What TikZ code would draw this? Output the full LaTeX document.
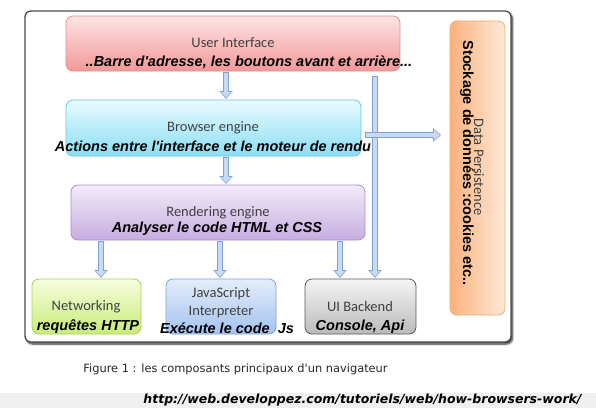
\documentclass[tikz,border=0pt]{standalone}
\usepackage{fontspec}
\setmainfont{Carlito}
\newfontfamily\arialf{Liberation Sans}
\newfontfamily\capf{DejaVu Sans}
\usetikzlibrary{arrows.meta,shadows.blur}
\definecolor{arrowfill}{HTML}{C9DAF3}
\definecolor{arrowline}{HTML}{7EA2D8}
\definecolor{uiline}{HTML}{E98C8C}
\tikzset{
  box/.style={rounded corners=7pt, minimum width=#1, inner sep=0pt, line width=0.8pt},
  title/.style={font=\fontsize{14.5}{15}\selectfont, text=black!75, inner sep=0pt},
  note/.style={font=\arialf\bfseries\itshape\fontsize{14.5}{15}\selectfont, inner sep=0pt},
  arrowout/.style={line width=6pt, arrowline, -{Triangle[length=8pt,width=13pt]}},
  arrowin/.style={line width=3.8pt, arrowfill, shorten >=1.2pt, shorten <=1pt, -{Triangle[length=5.8pt,width=9.6pt]}},
}
\begin{document}
\begin{tikzpicture}[x=1pt,y=-1pt]
\useasboundingbox (0,0) rectangle (596,408);
% bottom band
\fill[gray!12] (0,393) rectangle (596,408);
% frame
\fill[white, rounded corners=6pt, blur shadow={shadow xshift=1.5pt, shadow yshift=-2pt, shadow blur steps=6, shadow blur extra rounding=2pt, shadow opacity=85}] (25,11) rectangle (511,342);
\draw[black!70, line width=1.3pt, rounded corners=6pt] (25,11) rectangle (511,342);
% boxes
\node[box=334pt, minimum height=55pt, draw=uiline, top color={rgb,255:red,253;green,228;blue,228}, bottom color={rgb,255:red,243;green,152;blue,152}] (ui) at (233,43.5) {};
\node[box=295pt, minimum height=56pt, draw={rgb,255:red,110;green,196;blue,224}, top color={rgb,255:red,232;green,251;blue,254}, bottom color={rgb,255:red,138;green,222;blue,245}] (be) at (213.5,128) {};
\node[box=294pt, minimum height=55pt, draw={rgb,255:red,168;green,142;blue,200}, top color={rgb,255:red,242;green,235;blue,249}, bottom color={rgb,255:red,198;green,174;blue,224}] (re) at (218,212.5) {};
\node[box=109pt, minimum height=55pt, draw={rgb,255:red,170;green,205;blue,92}, top color={rgb,255:red,246;green,253;blue,222}, bottom color={rgb,255:red,200;green,236;blue,120}] (net) at (86.5,306.5) {};
\node[box=110pt, minimum height=55pt, draw={rgb,255:red,126;green,163;blue,216}, top color={rgb,255:red,228;green,237;blue,250}, bottom color={rgb,255:red,164;green,194;blue,239}] (js) at (221,306.5) {};
\node[box=111pt, minimum height=55pt, draw=black!65, top color=black!4, bottom color=black!27] (uib) at (360.5,306.5) {};
\node[box=55pt, minimum height=294pt, draw={rgb,255:red,246;green,168;blue,108}, left color={rgb,255:red,251;green,178;blue,124}, right color={rgb,255:red,254;green,233;blue,216}] (dp) at (477.5,168) {};
% texts
\node[title] (uit) at (233,43) {User Interface};
\node[note] (uin) at (249,62) {..Barre d'adresse, les boutons avant et arrière...};
\node[title] (bet) at (213,128) {Browser engine};
\node[note] (ben) at (213,146) {Actions entre l'interface et le moteur de rendu};
\node[title] (ret) at (218,213) {Rendering engine};
\node[note] (ren) at (217,229) {Analyser le code HTML et CSS};
\node[title] (nett) at (86,307) {Networking};
\node[note] (netn) at (88,327) {requêtes HTTP};
\node[title, align=center, font=\fontsize{14.5}{18}\selectfont] (jst) at (221,303) {JavaScript\\Interpreter};
\node[note] (jsn) at (227,328) {Exécute le code\ \ Js};
\node[title] (uibt) at (360,307) {UI Backend};
\node[note] (uibn) at (360,327) {Console, Api};
\node[title, rotate=-90] (dpt) at (479,167) {Data Persistence};
\node[note, rotate=-90, font=\arialf\bfseries\fontsize{14.5}{15}\selectfont] (dpn) at (467,163) {Stockage de données :cookies etc..};
% arrow anchor points
\coordinate (a1s) at (226,71.5); \coordinate (a1e) at (226,99);
\coordinate (a2s) at (226,156.5); \coordinate (a2e) at (226,184);
\coordinate (a3s) at (101,240.5); \coordinate (a3e) at (101,278);
\coordinate (a4s) at (220,240.5); \coordinate (a4e) at (220,278);
\coordinate (a5s) at (340,240.5); \coordinate (a5e) at (340,278);
\coordinate (a6s) at (375,76); \coordinate (a6e) at (375,278);
\coordinate (a7s) at (365,135); \coordinate (a7e) at (441,135);
\foreach \s/\e in {a1s/a1e,a2s/a2e,a3s/a3e,a4s/a4e,a5s/a5e,a6s/a6e,a7s/a7e}{
  \draw[arrowout] (\s) -- (\e);
  \draw[arrowin] (\s) -- (\e);
}
% caption and url
\node[font=\capf\fontsize{11.4}{13}\selectfont, text=black!85, inner sep=0pt] (cap) at (235.5,369) {Figure 1 : les composants principaux d'un navigateur};
\node[font=\capf\bfseries\itshape\fontsize{12.5}{14}\selectfont, inner sep=0pt] (url) at (362.5,400) {http://web.developpez.com/tutoriels/web/how-browsers-work/};
\end{tikzpicture}
\end{document}
